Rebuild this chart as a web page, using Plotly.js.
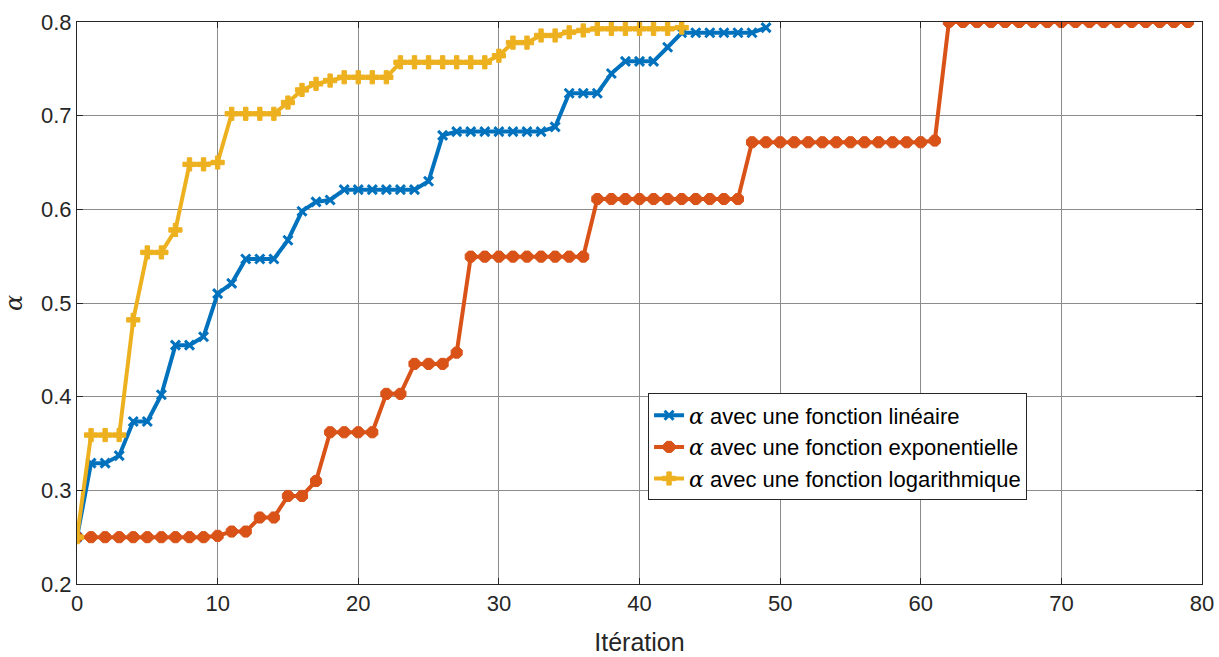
<!DOCTYPE html>
<html>
<head>
<meta charset="utf-8">
<script src="https://cdn.plot.ly/plotly-3.0.1.min.js"></script>
<style>html,body{margin:0;padding:0;background:#fff;}#chart{width:1219px;height:657px;}</style>
</head>
<body>
<div id="chart"></div>
<script>
const linearAlpha = [0.25,0.329,0.329,0.337,0.3735,0.3735,0.402,0.455,0.455,0.464,
  0.510,0.521,0.547,0.547,0.547,0.567,0.598,0.608,0.610,0.621,
  0.621,0.621,0.621,0.621,0.621,0.630,0.679,0.683,0.683,0.683,
  0.683,0.683,0.683,0.683,0.688,0.724,0.724,0.724,0.745,0.758,
  0.758,0.758,0.773,0.7885,0.7885,0.7885,0.7885,0.7885,0.7885,0.794];
const expAlpha = [0.25,0.25,0.25,0.25,0.25,0.25,0.25,0.25,0.25,0.25,
  0.2514,0.256,0.256,0.271,0.271,0.294,0.294,0.310,0.362,0.362,
  0.362,0.362,0.403,0.403,0.435,0.435,0.435,0.447,0.5495,0.5495,
  0.5495,0.5495,0.5495,0.5495,0.5495,0.5495,0.5495,0.611,0.611,0.611,
  0.611,0.611,0.611,0.611,0.611,0.611,0.611,0.611,0.6716,0.6716,
  0.6716,0.6716,0.6716,0.6716,0.6716,0.6716,0.6716,0.6716,0.6716,0.6716,
  0.6716,0.6734,0.8,0.8,0.8,0.8,0.8,0.8,0.8,0.8,
  0.8,0.8,0.8,0.8,0.8,0.8,0.8,0.8,0.8,0.8];
const logAlpha = [0.25,0.359,0.359,0.359,0.482,0.554,0.554,0.578,0.648,0.648,
  0.650,0.702,0.702,0.702,0.702,0.714,0.7275,0.734,0.7375,0.741,
  0.741,0.741,0.741,0.757,0.757,0.757,0.757,0.757,0.757,0.757,
  0.764,0.778,0.778,0.7856,0.7856,0.789,0.791,0.7927,0.7927,0.7927,
  0.7927,0.7927,0.7927,0.794];
const seriesNames = [
  '<span style="font-family:\'DejaVu Serif\',serif;font-style:italic">α</span> avec une fonction linéaire',
  '<span style="font-family:\'DejaVu Serif\',serif;font-style:italic">α</span> avec une fonction exponentielle',
  '<span style="font-family:\'DejaVu Serif\',serif;font-style:italic">α</span> avec une fonction logarithmique'
];
const xTickVals = [0,10,20,30,40,50,60,70,80];
const yTickVals = [0.2,0.3,0.4,0.5,0.6,0.7,0.8];

const idx = a => a.map((_, i) => i);

const traces = [
  {x: idx(linearAlpha), y: linearAlpha, name: seriesNames[0], mode: 'lines+markers',
   line: {color: '#0072BD', width: 4},
   marker: {symbol: 'x-thin', size: 9, color: '#0072BD', line: {color: '#0072BD', width: 3}}},
  {x: idx(expAlpha), y: expAlpha, name: seriesNames[1], mode: 'lines+markers',
   line: {color: '#D95319', width: 4},
   marker: {symbol: 'octagon', size: 12, color: '#D95319', line: {color: '#D95319', width: 1}}},
  {x: idx(logAlpha), y: logAlpha, name: seriesNames[2], mode: 'lines+markers',
   line: {color: '#EDB120', width: 4},
   marker: {symbol: 'cross', size: 11, color: '#EDB120', line: {color: '#EDB120', width: 1}}}
];

const axisCommon = {
  showline: true, mirror: 'ticks', linecolor: '#262626', linewidth: 1,
  ticks: 'inside', ticklen: 6, tickcolor: '#262626',
  showgrid: true, gridcolor: '#8c8c8c', gridwidth: 1, zeroline: false,
  tickfont: {family: 'Liberation Sans, Arial, sans-serif', size: 22, color: '#262626'}
};

const layout = {
  width: 1219, height: 657,
  margin: {l: 77, r: 17, t: 22, b: 73},
  paper_bgcolor: '#fff', plot_bgcolor: '#fff',
  showlegend: true,
  xaxis: Object.assign({}, axisCommon, {
    range: [0, 80], tickvals: xTickVals, ticktext: xTickVals.map(String),
    title: {text: 'Itération', font: {family: 'Liberation Sans, Arial, sans-serif', size: 25, color: '#262626'}, standoff: 18}
  }),
  yaxis: Object.assign({}, axisCommon, {
    range: [0.2, 0.8], tickvals: yTickVals, ticktext: yTickVals.map(v => v.toFixed(1)),
    title: {text: '<i>α</i>', font: {family: 'DejaVu Serif, serif', size: 24, color: '#262626'}, standoff: 12}
  }),
  legend: {
    x: 0.5076, y: 0.339, xanchor: 'left', yanchor: 'top',
    bgcolor: '#fff', bordercolor: '#262626', borderwidth: 1,
    font: {family: 'Liberation Sans, Arial, sans-serif', size: 22, color: '#000'},
    itemwidth: 30, tracegroupgap: 0
  }
};

Plotly.newPlot('chart', traces, layout, {displayModeBar: false, staticPlot: true});
</script>
</body>
</html>
